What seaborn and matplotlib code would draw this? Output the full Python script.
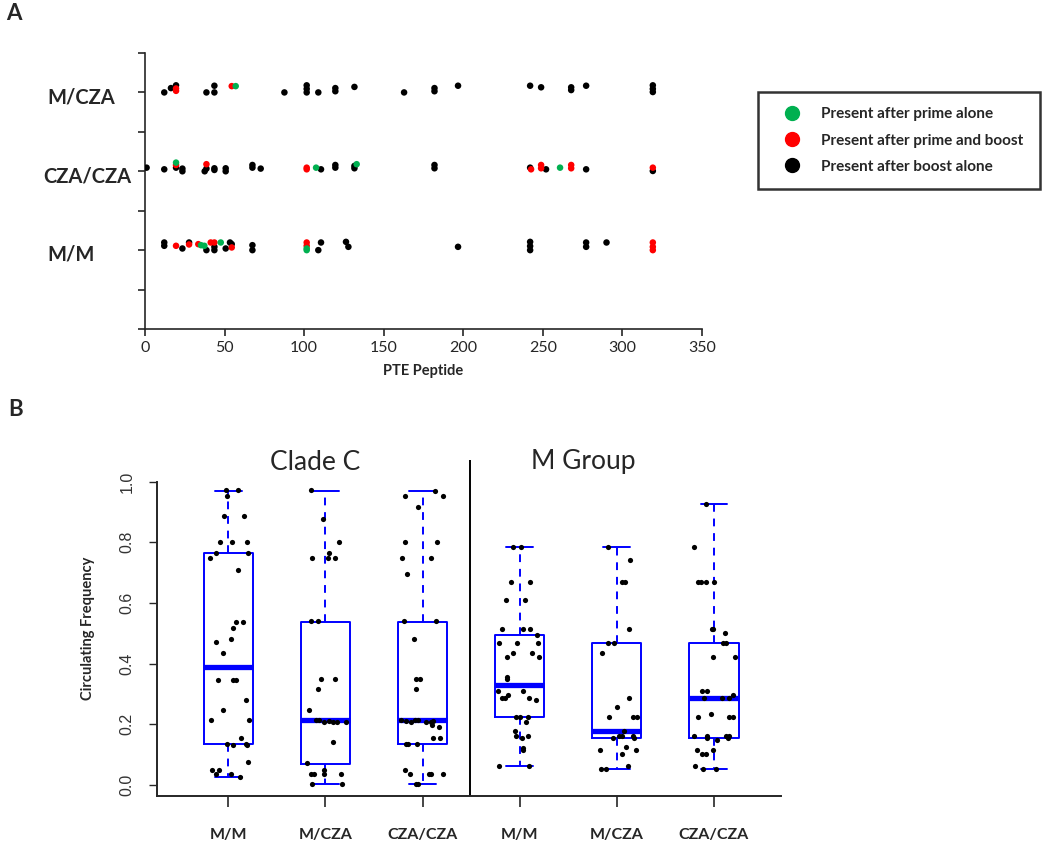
import numpy as np
import pandas as pd
import matplotlib
matplotlib.use("Agg")
import matplotlib.pyplot as plt
from matplotlib.lines import Line2D
import seaborn as sns

# ---------------- Panel A data: peptide position, row, small vertical stack offset, category
row_names = ["M/M", "CZA/CZA", "M/CZA"]
cat_names = ["Present after prime alone", "Present after prime and boost", "Present after boost alone"]
cat_colors = ["#00B050", "#FF0000", "#000000"]

# (peptide, offset, category) ; 0 = prime alone, 1 = prime and boost, 2 = boost alone
mcza_pts = [
    (12.1, 0.0, 2), (16.3, 0.055, 2), (19.5, 0.09, 2), (19.5, 0.05, 1), (19.5, 0.02, 1),
    (38.6, 0.0, 2), (43.6, 0.085, 2), (43.6, 0.0, 2), (54.5, 0.08, 1), (57.0, 0.08, 0),
    (87.6, 0.0, 2), (101.6, 0.09, 2), (101.6, 0.045, 2), (101.6, 0.0, 2), (108.9, 0.0, 2),
    (119.6, 0.055, 2), (119.6, 0.015, 2), (131.6, 0.07, 2), (162.8, 0.0, 2),
    (181.9, 0.055, 2), (181.9, 0.015, 2), (196.7, 0.085, 2), (242.0, 0.085, 2),
    (248.9, 0.065, 2), (267.8, 0.065, 2), (267.8, 0.03, 2), (277.2, 0.085, 2),
    (319.1, 0.09, 2), (319.1, 0.045, 2), (319.1, 0.005, 2),
]
czacza_pts = [
    (1.0, 0.046, 2), (12.1, 0.025, 2), (19.5, 0.046, 2), (19.5, 0.08, 1), (19.5, 0.11, 0),
    (23.5, 0.034, 2), (23.5, 0.0, 2), (37.5, 0.0, 2), (38.6, 0.034, 2), (38.6, 0.09, 1),
    (43.6, 0.038, 2), (43.6, 0.017, 2), (50.7, 0.038, 2), (50.7, 0.0, 2),
    (67.5, 0.08, 2), (67.5, 0.046, 2), (72.7, 0.034, 2), (101.6, 0.046, 1), (101.6, 0.025, 1),
    (107.5, 0.046, 0), (110.6, 0.025, 2), (119.6, 0.08, 2), (119.6, 0.046, 2),
    (131.6, 0.068, 2), (131.6, 0.038, 2), (133.0, 0.09, 0), (181.9, 0.08, 2), (181.9, 0.038, 2),
    (242.6, 0.025, 1), (242.0, 0.046, 2), (248.9, 0.08, 1), (248.9, 0.038, 1), (252.0, 0.025, 2),
    (260.8, 0.046, 0), (267.8, 0.08, 1), (267.8, 0.038, 1), (277.2, 0.025, 2),
    (319.1, 0.004, 2), (319.1, 0.046, 1),
]
mm_pts = [
    (12.1, 0.097, 2), (12.1, 0.055, 2), (19.5, 0.055, 1), (23.5, 0.021, 2), (27.7, 0.097, 2),
    (27.7, 0.072, 1), (33.5, 0.076, 1), (35.2, 0.063, 0), (37.3, 0.055, 0), (38.6, 0.0, 2),
    (41.3, 0.097, 1), (43.6, 0.042, 2), (43.6, 0.0, 2), (43.6, 0.097, 1), (47.6, 0.097, 0),
    (50.7, 0.021, 2), (53.4, 0.097, 2), (54.5, 0.076, 2), (54.5, 0.034, 1),
    (67.5, 0.063, 2), (67.5, 0.0, 2), (101.6, 0.097, 1), (101.6, 0.055, 1),
    (101.6, 0.021, 0), (101.6, 0.0, 0), (108.9, 0.0, 2), (110.6, 0.097, 2),
    (126.3, 0.105, 2), (127.8, 0.042, 2), (196.7, 0.042, 2),
    (242.0, 0.105, 2), (242.0, 0.051, 2), (242.0, 0.0, 2), (277.2, 0.097, 2), (277.2, 0.042, 2),
    (290.0, 0.097, 2), (319.1, 0.097, 1), (319.1, 0.042, 1), (319.1, 0.0, 1),
]

# ---------------- Panel B data: (x jitter, circulating frequency) per group
group_labels = ["M/M", "M/CZA", "CZA/CZA", "M/M", "M/CZA", "CZA/CZA"]
cc_mm = [(-0.027, 0.973), (0.103, 0.973), (-0.017, 0.951), (-0.045, 0.888), (0.165, 0.888),
         (-0.086, 0.802), (0.034, 0.802), (0.196, 0.802), (-0.193, 0.749), (-0.131, 0.764),
         (0.206, 0.764), (0.103, 0.709), (0.076, 0.538), (0.148, 0.538), (0.052, 0.516),
         (0.027, 0.480), (-0.131, 0.470), (-0.052, 0.436), (-0.103, 0.347), (0.052, 0.347),
         (0.079, 0.347), (0.182, 0.280), (-0.052, 0.247), (-0.182, 0.214), (0.213, 0.214),
         (0.131, 0.154), (-0.010, 0.135), (0.045, 0.132), (0.182, 0.135), (0.196, 0.132),
         (0.206, 0.075), (-0.172, 0.049), (-0.131, 0.035), (-0.096, 0.049), (0.024, 0.035),
         (0.120, 0.027)]
cc_mcza = [(-0.148, 0.973), (-0.027, 0.877), (0.137, 0.802), (0.041, 0.764), (0.024, 0.749),
           (-0.137, 0.749), (0.103, 0.749), (-0.148, 0.541), (-0.072, 0.541), (-0.045, 0.348),
           (0.100, 0.348), (-0.072, 0.316), (-0.165, 0.247), (-0.096, 0.214), (-0.062, 0.214),
           (-0.017, 0.208), (0.034, 0.211), (0.076, 0.209), (0.117, 0.208), (0.213, 0.209),
           (0.076, 0.143), (-0.192, 0.074), (-0.148, 0.035), (-0.113, 0.035), (-0.017, 0.049),
           (-0.017, 0.035), (0.162, 0.035), (-0.137, 0.002), (0.168, 0.002)]
cc_czacza = [(0.124, 0.970), (-0.179, 0.951), (0.210, 0.951), (-0.048, 0.916), (-0.179, 0.802),
             (0.151, 0.802), (-0.213, 0.749), (0.089, 0.749), (-0.162, 0.695), (-0.196, 0.541),
             (0.134, 0.541), (-0.089, 0.481), (-0.065, 0.348), (-0.024, 0.348), (-0.072, 0.316),
             (-0.220, 0.214), (-0.168, 0.211), (-0.124, 0.207), (-0.082, 0.214), (-0.048, 0.214),
             (0.031, 0.207), (0.089, 0.207), (0.107, 0.211), (0.096, 0.198), (0.168, 0.192),
             (0.107, 0.154), (0.175, 0.154), (-0.168, 0.134), (-0.151, 0.134), (-0.058, 0.134),
             (-0.179, 0.049), (-0.134, 0.035), (0.065, 0.035), (0.089, 0.035), (0.210, 0.035),
             (-0.072, 0.002), (-0.048, 0.002)]
mg_mm = [(-0.069, 0.784), (0.017, 0.784), (-0.093, 0.670), (0.107, 0.670), (-0.141, 0.610),
         (0.055, 0.610), (-0.179, 0.514), (0.034, 0.514), (0.107, 0.514), (0.179, 0.495),
         (-0.213, 0.467), (-0.024, 0.467), (0.186, 0.467), (-0.072, 0.436), (0.127, 0.436),
         (-0.131, 0.421), (0.199, 0.421), (-0.134, 0.355), (-0.134, 0.348), (-0.223, 0.309),
         (0.034, 0.309), (-0.124, 0.297), (-0.182, 0.286), (-0.155, 0.286), (0.100, 0.286),
         (0.168, 0.279), (-0.041, 0.224), (0.0, 0.224), (0.082, 0.224), (0.062, 0.209),
         (-0.048, 0.179), (-0.034, 0.163), (0.021, 0.154), (0.089, 0.163), (0.034, 0.121),
         (0.034, 0.115), (-0.216, 0.064), (0.093, 0.064)]
mg_mcza = [(-0.086, 0.784), (0.137, 0.742), (0.058, 0.670), (0.079, 0.670), (0.127, 0.514),
           (-0.093, 0.467), (-0.031, 0.467), (-0.155, 0.436), (0.127, 0.286), (-0.003, 0.257),
           (-0.076, 0.224), (0.165, 0.224), (0.206, 0.224), (0.074, 0.179), (-0.041, 0.156),
           (0.027, 0.163), (0.058, 0.163), (0.165, 0.163), (0.179, 0.154), (-0.172, 0.115),
           (0.093, 0.124), (0.055, 0.102), (0.196, 0.115), (-0.165, 0.052), (-0.110, 0.052),
           (0.120, 0.064)]
mg_czacza = [(-0.086, 0.925), (-0.210, 0.784), (-0.161, 0.670), (-0.137, 0.670), (-0.086, 0.670),
             (0.0, 0.670), (-0.024, 0.514), (-0.007, 0.514), (0.113, 0.500), (0.096, 0.467),
             (0.120, 0.467), (-0.010, 0.421), (0.213, 0.421), (-0.124, 0.309), (-0.069, 0.309),
             (-0.107, 0.286), (0.086, 0.286), (0.151, 0.286), (0.199, 0.297), (-0.031, 0.235),
             (-0.165, 0.224), (0.151, 0.224), (0.192, 0.224), (-0.210, 0.163), (-0.076, 0.163),
             (-0.069, 0.156), (0.027, 0.148), (0.120, 0.163), (0.141, 0.156), (0.158, 0.163),
             (-0.179, 0.115), (-0.124, 0.102), (-0.082, 0.102), (-0.007, 0.115), (-0.192, 0.064),
             (-0.117, 0.052), (0.017, 0.052)]
groups_b = [cc_mm, cc_mcza, cc_czacza, mg_mm, mg_mcza, mg_czacza]

# box statistics (R boxplot hinges)
box_q1 = [0.135, 0.071, 0.135, 0.224, 0.156, 0.156]
box_med = [0.390, 0.214, 0.214, 0.329, 0.178, 0.286]
box_q3 = [0.764, 0.537, 0.537, 0.495, 0.467, 0.467]
box_lo = [0.027, 0.002, 0.002, 0.064, 0.052, 0.052]
box_hi = [0.970, 0.970, 0.970, 0.784, 0.784, 0.925]

# ---------------- figure
sns.set_style("ticks")
plt.rcParams['font.family'] = ['Lato', 'DejaVu Sans']

fig = plt.figure(figsize=(10.5, 8.43), dpi=100)
W, H = 1050, 843

# ----- Panel A
axA = fig.add_axes([145 / W, 1 - 329 / H, (702 - 145) / W, (329 - 53) / H])
rows = []
for ri, pts in enumerate([mm_pts, czacza_pts, mcza_pts]):
    for x, dy, c in pts:
        rows.append({"peptide": x, "y": ri + 1 + dy, "cat": cat_names[c], "order": 2 - c})
dfA = pd.DataFrame(rows).sort_values("order", kind="stable")
sns.scatterplot(data=dfA, x="peptide", y="y", hue="cat", hue_order=cat_names,
                palette=cat_colors, s=22, linewidth=0, ax=axA, legend=False, zorder=3)
axA.set_xlim(0, 350)
axA.set_ylim(0, 3.5)
axA.set_xticks(np.arange(0, 351, 50))
axA.set_yticks(np.arange(0, 3.51, 0.5))
axA.set_yticklabels([])
axA.tick_params(axis="x", labelsize=11.5, length=5, width=1.2, pad=4)
axA.tick_params(axis="y", length=5, width=1.2)
for s in ["top", "right"]:
    axA.spines[s].set_visible(False)
for s in ["left", "bottom"]:
    axA.spines[s].set_linewidth(1.2)
axA.set_xlabel("PTE Peptide", fontsize=10.5, fontweight="bold", labelpad=6)
axA.set_ylabel("")
label_x = [47, 43, 47]
for ri, name in enumerate(row_names):
    axA.text((label_x[ri] - 145) / (702 - 145), ri + 1 - 0.06, name,
             transform=axA.get_yaxis_transform(),
             ha="left", va="center", fontsize=14.5, fontweight="bold")

handles = [Line2D([], [], ls="", marker="o", ms=10, mfc=c, mec=c) for c in cat_colors]
leg = fig.legend(handles, cat_names, loc="upper left",
                 bbox_to_anchor=(758 / W, 1 - 193 / H, 282 / W, 101 / H), mode="expand",
                 prop={"weight": "bold", "size": 11}, frameon=True, fancybox=False,
                 edgecolor="black", borderpad=1.0, labelspacing=0.8, handlelength=2.5,
                 handletextpad=0.6, borderaxespad=0)
leg.get_frame().set_linewidth(1.8)

# ----- Panel B
axB = fig.add_axes([157 / W, 1 - 796 / H, (781 - 157) / W, (796 - 460) / H])
rowsB = []
for gi, pts in enumerate(groups_b):
    for dx, v in pts:
        rowsB.append({"pos": gi + dx, "freq": v})
dfB = pd.DataFrame(rowsB)
stats = []
for i in range(6):
    stats.append({"med": box_med[i], "q1": box_q1[i], "q3": box_q3[i],
                  "whislo": box_lo[i], "whishi": box_hi[i], "fliers": []})
blue = "#0000FF"
axB.bxp(stats, positions=range(6), widths=0.505, capwidths=0.275, showfliers=False,
        boxprops=dict(color=blue, lw=1.4), whiskerprops=dict(color=blue, lw=1.4, ls=(0, (4, 3.5))),
        capprops=dict(color=blue, lw=1.4), medianprops=dict(color=blue, lw=3.8, solid_capstyle="butt"),
        manage_ticks=False)
sns.scatterplot(data=dfB, x="pos", y="freq", color="black", s=14, linewidth=0, ax=axB, zorder=4)
axB.set_xlim(-0.734, 5.69)
axB.set_ylim(-0.036, 1.071)
axB.set_xticks(range(6))
axB.set_xticklabels(group_labels, fontweight="bold", fontsize=11.5)
axB.set_yticks(np.arange(0, 1.01, 0.2))
axB.set_yticklabels([f"{v:.1f}" for v in np.arange(0, 1.01, 0.2)], rotation=90,
                    va="center", fontsize=11.5, family="Liberation Sans", color="#333333")
axB.tick_params(axis="x", length=8, width=1.2, pad=15)
axB.tick_params(axis="y", length=6, width=1.0, pad=10)
for s in ["top", "right"]:
    axB.spines[s].set_visible(False)
axB.spines["left"].set_bounds(-0.036, 1.0)
axB.spines["left"].set_linewidth(1.4)
axB.spines["bottom"].set_linewidth(1.4)
axB.axvline(2.49, color="black", lw=1.4)
axB.set_xlabel("")
axB.set_ylabel("Circulating Frequency", fontsize=10.5, fontweight="bold", labelpad=18)
fig.text(315 / W, 1 - 462 / H, "Clade C", fontsize=19, ha="center", va="center")
fig.text(583 / W, 1 - 462 / H, "M Group", fontsize=19, ha="center", va="center")

fig.text(14 / W, 1 - 14 / H, "A", fontsize=16, fontweight="bold", ha="center", va="center")
fig.text(16 / W, 1 - 410 / H, "B", fontsize=16, fontweight="bold", ha="center", va="center")

fig.savefig("out.png", dpi=100)
